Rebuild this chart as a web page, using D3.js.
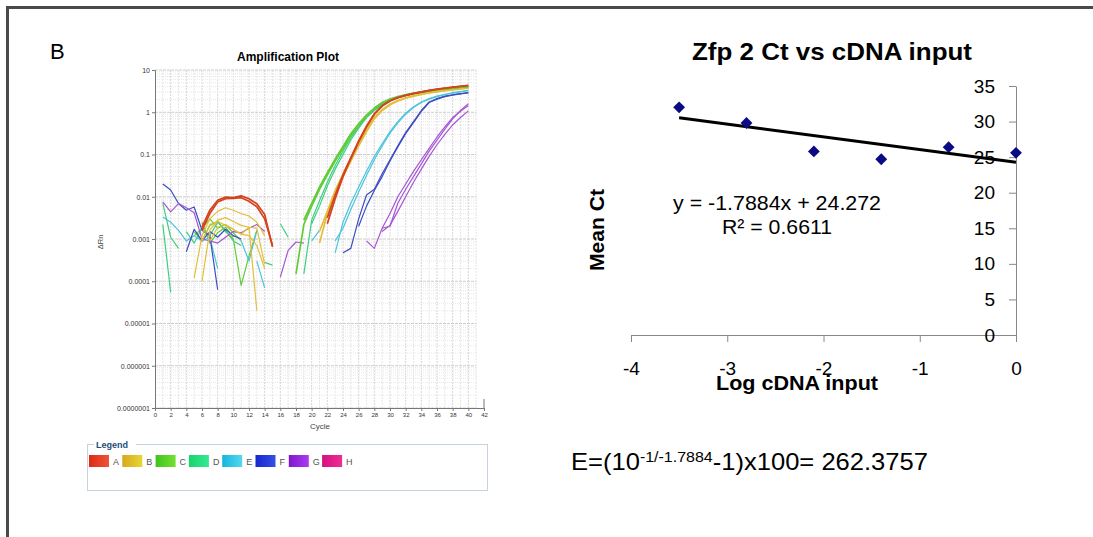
<!DOCTYPE html>
<html>
<head>
<meta charset="utf-8">
<script src="https://cdn.jsdelivr.net/npm/d3@7"></script>
<style>
body{margin:0;background:#fff}
svg{display:block;font-family:"Liberation Sans",Arial,sans-serif}
</style>
</head>
<body>
<svg width="1093" height="537"></svg>
<script>
// ---- amplification plot data (delta Rn per cycle, each curve starts at a cycle) ----
var redEarly1 = [0.0019,0.0048,0.0083,0.0098,0.0095,0.0105,0.009,0.0068,0.0038,0.00065];
var redEarly2 = [0.0016,0.004,0.0075,0.009,0.0092,0.0095,0.0078,0.0058,0.003,0.0007];
var yelEarly1 = [0.00012,0.0012,0.003,0.0045,0.0055,0.0048,0.004,0.0035,0.0025,0.0012];
var yelEarly2 = [0.0001,0.0016,0.0028,0.0032,0.0026,0.0021,0.0019,0.0018,0.00025];
var yelEarly3 = [0.0009,0.0019,0.0022,0.0017,0.0013,0.0019,0.00002];
var yelEarly4 = [0.0009,0.0022,0.0026,0.0021,0.0017,0.0013,0.0012,0.0007,0.0002];
var grnEarly1 = [0.0015,0.0009,0.0021,0.0026,0.0015,0.001,0.00008,0.0004,0.0016];
var grnEarly2 = [0.0012,0.0018,0.003,0.0018,0.0022,0.0014,0.0009];
var grnEarly3 = [0.0025,0.0008,0.0014,0.0019,0.0011];
var sprEarly1 = [0.0022,0.000055];
var sprEarly2 = [0.007,0.0011,0.0006];
var sprEarly3 = [0.0015,0.0008,0.0018,0.0012,0.0025,0.0016,0.0009,0.0007];
var sprEarly4 = [0.00028,0.00024];
var sprEarly5 = [0.0023,0.0011];
var cyaEarly1 = [0.0033,0.0025,0.0016,0.0009,0.0012,0.0009,0.0011,0.0002];
var cyaEarly2 = [0.0009,0.0003,0.0016];
var cyaEarly3 = [0.0003,0.00007];
var cyaEarly4 = [0.0009,0.0016];
var bluEarly1 = [0.02,0.0145,0.0069,0.0048,0.0057,0.0016,0.0012,0.000063];
var bluEarly2 = [0.0005,0.0017,0.0009,0.0015,0.0011,0.0017,0.0012,0.001];
var purEarly1 = [0.0076,0.0044,0.0069,0.0055,0.0042,0.001,0.0009,0.0008,0.0011,0.0015,0.0014,0.0018,0.0022,0.0015];
var purEarly2 = [0.000125,0.00054,0.00085,0.0008];

var redLate1 = [0.0023,0.009,0.03,0.08,0.2,0.45,0.9,1.4,1.85,2.2,2.5,2.75,3.0,3.25,3.5,3.7,3.9,4.1,4.3];
var redLate2 = [0.0032,0.011,0.033,0.085,0.21,0.47,0.92,1.42,1.87,2.22,2.52,2.78,3.03,3.28,3.52,3.72,3.92,4.12,4.32];
var yelLate1 = [0.0008,0.004,0.012,0.03,0.07,0.16,0.35,0.7,1.1,1.5,1.85,2.15,2.4,2.65,2.85,3.05,3.25,3.4,3.55,3.7];
var yelLate2 = [0.0015,0.0045,0.014,0.035,0.08,0.18,0.4,0.75,1.15,1.55,1.9,2.2,2.45,2.7,2.9,3.1,3.3,3.45,3.6,3.75];
var grnLate1 = [0.00015,0.0022,0.006,0.015,0.033,0.07,0.14,0.28,0.5,0.82,1.22,1.65,2.0,2.3,2.58,2.82,3.02,3.22,3.42,3.58,3.74,3.9,4.05];
var grnLate2 = [0.0028,0.007,0.017,0.037,0.078,0.155,0.31,0.53,0.86,1.26,1.7,2.05,2.35,2.6,2.85,3.05,3.25,3.45,3.6,3.75,3.9,4.05];
var sprLate1 = [0.00015,0.0028,0.008,0.022,0.055,0.12,0.25,0.45,0.78,1.15,1.55,1.95,2.25,2.5,2.75,2.95,3.15,3.35,3.5,3.65,3.8,3.9];
var sprLate2 = [0.0023,0.006,0.018,0.045,0.1,0.22,0.42,0.75,1.1,1.5,1.9,2.2,2.45,2.7,2.9,3.1,3.3,3.45,3.6,3.75,3.85];
var cyaLate1 = [0.00047,0.0025,0.007,0.017,0.04,0.09,0.18,0.35,0.6,0.95,1.35,1.75,2.1,2.4,2.65,2.9,3.1,3.3];
var cyaLate2 = [0.0009,0.0018,0.005,0.013,0.032,0.075,0.16,0.32,0.56,0.9,1.3,1.7,2.05,2.35,2.6,2.85,3.05,3.25];
var bluLate1 = [0.00047,0.0006,0.003,0.011,0.015,0.035,0.075,0.16,0.33,0.6,1.1,1.75,2.1,2.4,2.6,2.75,2.9];
var bluLate2 = [0.002,0.006,0.014,0.03,0.07,0.15,0.31,0.57,1.05,1.7,2.05,2.35,2.55,2.72,2.88];
var purLate1 = [0.0009,0.0006,0.0018,0.002,0.007,0.015,0.03,0.06,0.12,0.22,0.4,0.7,1.1,1.6];
var purLate2 = [0.0018,0.004,0.01,0.02,0.04,0.075,0.14,0.26,0.45,0.75,1.05,1.45];
var purLate3 = [0.0015,0.0021,0.0045,0.01,0.022,0.045,0.09,0.17,0.3,0.5,0.75,1.08];

var curves = [
  {well:"C", start:5, values:grnEarly1}, {well:"C", start:5, values:grnEarly2}, {well:"C", start:6, values:grnEarly3},
  {well:"D", start:1, values:sprEarly1}, {well:"D", start:1, values:sprEarly2}, {well:"D", start:4, values:sprEarly3},
  {well:"D", start:14, values:sprEarly4}, {well:"D", start:16, values:sprEarly5},
  {well:"E", start:1, values:cyaEarly1}, {well:"E", start:11, values:cyaEarly2}, {well:"E", start:13, values:cyaEarly3},
  {well:"E", start:20, values:cyaEarly4},
  {well:"F", start:1, values:bluEarly1}, {well:"F", start:4, values:bluEarly2},
  {well:"G", start:1, values:purEarly1}, {well:"G", start:16, values:purEarly2},
  {well:"B", start:5, values:yelEarly1}, {well:"B", start:6, values:yelEarly2}, {well:"B", start:7, values:yelEarly3},
  {well:"B", start:6, values:yelEarly4},
  {well:"A", start:6, values:redEarly1}, {well:"A", start:6, values:redEarly2},
  {well:"G", start:27, values:purLate1}, {well:"G", start:29, values:purLate2}, {well:"G", start:29, values:purLate3},
  {well:"F", start:24, values:bluLate1}, {well:"F", start:26, values:bluLate2},
  {well:"E", start:23, values:cyaLate1}, {well:"E", start:23, values:cyaLate2},
  {well:"D", start:19, values:sprLate1}, {well:"D", start:20, values:sprLate2},
  {well:"B", start:21, values:yelLate1}, {well:"B", start:21, values:yelLate2},
  {well:"C", start:18, values:grnLate1}, {well:"C", start:19, values:grnLate2},
  {well:"A", start:22, values:redLate1}, {well:"A", start:22, values:redLate2}
];

var wells = ["A","B","C","D","E","F","G","H"];
var yTickValues = [1e-7,1e-6,1e-5,1e-4,1e-3,1e-2,1e-1,1,10];
var yTickLabels = ["0.0000001","0.000001","0.00001","0.0001","0.001","0.01","0.1","1","10"];

// ---- standard curve data ----
var logInput = [-3.5,-2.8,-2.1,-1.4,-0.7,0];
var meanCt = [32.0,29.8,25.8,24.7,26.4,25.6];
var slope = -1.7884, intercept = 24.272, r2 = 0.6611;

// colours
var lineColor = {A:"#d4421e",B:"#e2bf3a",C:"#62cc36",D:"#3dcf7e",E:"#4cc4dc",F:"#3c4cc4",G:"#a656d4",H:"#e0208a"};
var swatch = {A:["#dc2a18","#ee5634"],B:["#d8a81a","#e6d834"],C:["#40c41e","#74e034"],D:["#16d46c","#36e894"],
              E:["#16b4de","#54d8f0"],F:["#1626cc","#3450e6"],G:["#7e18cc","#ac3cf0"],H:["#d41080","#f02c94"]};

var svg = d3.select("svg");

// outer frame
svg.append("path").attr("d","M7.5,537V7.5H1093").attr("fill","none")
  .attr("stroke","#4a4a4a").attr("stroke-width",3);

svg.append("text").attr("x",50).attr("y",59).attr("font-size",22).text("B");

// ================= amplification plot =================
var x = d3.scaleLinear().domain([0,42]).range([155,484]);
var y = d3.scaleLog().domain([1e-7,10]).range([408,70]);

var grid = svg.append("g");
d3.range(1,42).forEach(function(c){
  grid.append("line").attr("x1",x(c)).attr("x2",x(c)).attr("y1",70).attr("y2",408)
    .attr("stroke", c%2==0 ? "#d6d6d6" : "#e6e6e6").attr("stroke-dasharray","2,1");
});
d3.range(-7,1).forEach(function(p){
  d3.range(1,10).forEach(function(k){
    var v = k*Math.pow(10,p);
    grid.append("line").attr("x1",x(0)).attr("x2",x(41)).attr("y1",y(v)).attr("y2",y(v))
      .attr("stroke", k==1 ? "#cccccc" : "#e8e8e8").attr("stroke-dasharray", k==1 ? "3,1" : "1,1");
  });
});
grid.append("line").attr("x1",x(0)).attr("x2",x(41)).attr("y1",y(10)).attr("y2",y(10))
  .attr("stroke","#cccccc").attr("stroke-dasharray","3,1");

var yAx = svg.append("g").attr("transform","translate(155,0)")
  .call(d3.axisLeft(y).tickValues(yTickValues).tickSize(3).tickPadding(2)
    .tickFormat(function(d,i){ return yTickLabels[i]; }));
var xAx = svg.append("g").attr("transform","translate(0,408)")
  .call(d3.axisBottom(x).tickValues(d3.range(0,43,2)).tickSize(3).tickPadding(2).tickSizeOuter(0));
[yAx,xAx].forEach(function(a){
  a.select(".domain").attr("stroke","#777");
  a.selectAll(".tick line").attr("stroke","#777");
  a.selectAll("text").attr("fill","#333").attr("font-size",7).attr("font-family","Liberation Sans,Arial,sans-serif");
});
xAx.selectAll("text").attr("font-size",6);
svg.append("line").attr("x1",x(42)).attr("x2",x(42)).attr("y1",399).attr("y2",408).attr("stroke","#777");

var line = d3.line().x(function(d){ return x(d[0]); }).y(function(d){ return y(d[1]); });
svg.append("g").selectAll("path").data(curves).enter().append("path")
  .attr("d", function(c){ return line(c.values.map(function(v,i){ return [c.start+i, v]; })); })
  .attr("fill","none")
  .attr("stroke", function(c){ return lineColor[c.well]; })
  .attr("stroke-width", function(c){ return (c.start>=18 && "ABC".indexOf(c.well)>=0) || (c.well=="A") ? 1.7 : 1.2; })
  .attr("stroke-linejoin","round");

svg.append("text").attr("x",288).attr("y",61).attr("text-anchor","middle")
  .attr("font-size",12).attr("font-weight","bold").text("Amplification Plot");
svg.append("text").attr("x",320).attr("y",429).attr("text-anchor","middle")
  .attr("font-size",8).attr("fill","#444").text("Cycle");
svg.append("text").attr("transform","translate(103,242) rotate(-90)").attr("text-anchor","middle")
  .attr("font-size",7.5).attr("fill","#444").text("ΔRn");

// legend
var defs = svg.append("defs");
wells.forEach(function(w){
  var g = defs.append("linearGradient").attr("id","sw"+w);
  g.append("stop").attr("offset","0").attr("stop-color",swatch[w][0]);
  g.append("stop").attr("offset","1").attr("stop-color",swatch[w][1]);
});
svg.append("rect").attr("x",87.5).attr("y",444.5).attr("width",400).attr("height",46)
  .attr("fill","#fff").attr("stroke","#c6d3dc");
svg.append("rect").attr("x",94).attr("y",440).attr("width",42).attr("height",9).attr("fill","#fff");
svg.append("text").attr("x",96).attr("y",448).attr("font-size",9).attr("font-weight","bold")
  .attr("fill","#1d4d7a").text("Legend");
var leg = svg.append("g").selectAll("g").data(wells).enter().append("g")
  .attr("transform", function(d,i){ return "translate(" + (89 + i*33.3) + ",455)"; });
leg.append("rect").attr("width",20).attr("height",12).attr("fill", function(d){ return "url(#sw"+d+")"; });
leg.append("text").attr("x",24).attr("y",10).attr("font-size",9).attr("fill","#555").text(function(d){ return d; });

// ================= standard curve =================
var sx = d3.scaleLinear().domain([-4,0]).range([631,1016]);
var sy = d3.scaleLinear().domain([0,35]).range([335,86]);

var sxAx = svg.append("g").attr("transform","translate(0,335)")
  .call(d3.axisBottom(sx).tickValues([-4,-3,-2,-1,0]).tickSize(7).tickSizeOuter(0)
    .tickFormat(function(d){ return String(d); }));
sxAx.selectAll("text").attr("y",40).attr("dy",0);
var syAx = svg.append("g").attr("transform","translate(1016,0)")
  .call(d3.axisLeft(sy).tickValues(d3.range(0,36,5)).tickSize(7).tickPadding(14).tickSizeOuter(0));
[sxAx,syAx].forEach(function(a){
  a.select(".domain").attr("stroke","#888");
  a.selectAll(".tick line").attr("stroke","#888");
  a.selectAll("text").attr("fill","#000").attr("font-size",19).attr("font-family","Liberation Sans,Arial,sans-serif");
});

svg.append("line")
  .attr("x1",sx(d3.min(logInput))).attr("y1",sy(slope*d3.min(logInput)+intercept))
  .attr("x2",sx(d3.max(logInput))).attr("y2",sy(slope*d3.max(logInput)+intercept))
  .attr("stroke","#000").attr("stroke-width",3);

svg.append("g").selectAll("path").data(logInput).enter().append("path")
  .attr("d", d3.symbol().type(d3.symbolSquare).size(70))
  .attr("transform", function(d,i){ return "translate(" + sx(d) + "," + sy(meanCt[i]) + ") rotate(45)"; })
  .attr("fill","#0a0a82");

svg.append("text").attr("x",832).attr("y",60).attr("text-anchor","middle")
  .attr("font-size",24).attr("font-weight","bold").attr("textLength",280).attr("lengthAdjust","spacingAndGlyphs")
  .text("Zfp 2 Ct vs cDNA input");
svg.append("text").attr("x",797).attr("y",390).attr("text-anchor","middle")
  .attr("font-size",20).attr("font-weight","bold").attr("textLength",162).attr("lengthAdjust","spacingAndGlyphs")
  .text("Log cDNA input");
svg.append("text").attr("transform","translate(604,230) rotate(-90)").attr("text-anchor","middle")
  .attr("font-size",20).attr("font-weight","bold").attr("textLength",82).attr("lengthAdjust","spacingAndGlyphs")
  .text("Mean Ct");
svg.append("text").attr("x",777).attr("y",210).attr("text-anchor","middle")
  .attr("font-size",20).attr("textLength",208).attr("lengthAdjust","spacingAndGlyphs")
  .text("y = " + slope + "x + " + intercept);
svg.append("text").attr("x",777).attr("y",234).attr("text-anchor","middle")
  .attr("font-size",20).attr("textLength",110).attr("lengthAdjust","spacingAndGlyphs")
  .text("R² = " + r2);

// efficiency
var eff = svg.append("text").attr("x",571).attr("y",470).attr("font-size",24)
  .attr("textLength",357).attr("lengthAdjust","spacingAndGlyphs");
eff.append("tspan").text("E=(10");
eff.append("tspan").attr("font-size",15).attr("dy",-8).text("-1/" + slope);
eff.append("tspan").attr("dy",8).text("-1)x100= 262.3757");
</script>
</body>
</html>
